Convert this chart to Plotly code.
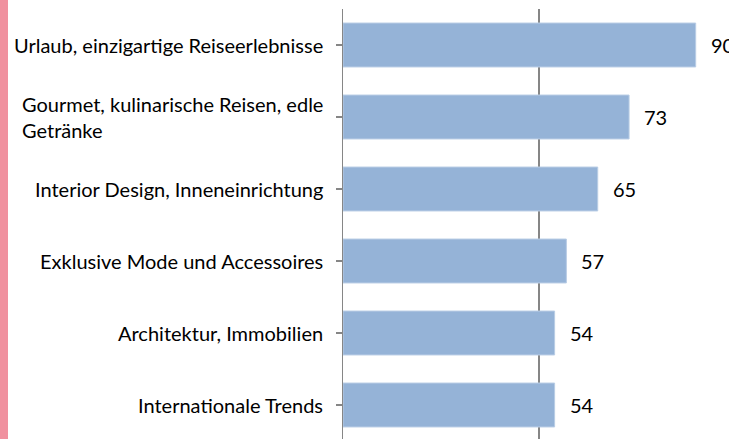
import plotly.graph_objects as go

categories = [
    "Urlaub, einzigartige Reiseerlebnisse",
    "Gourmet, kulinarische Reisen, edle<br>Getränke",
    "Interior Design, Inneneinrichtung",
    "Exklusive Mode und Accessoires",
    "Architektur, Immobilien",
    "Internationale Trends",
]
values = [90, 73, 65, 57, 54, 54]
x_gridlines = [50]

W, H = 729, 439
L, T = 343, 9
plot_w = W - L
plot_h = H - T
FONT = "Lato"
FS = 20

fig = go.Figure()
fig.add_trace(go.Bar(
    x=values,
    y=list(range(len(categories))),
    orientation="h",
    width=0.61,
    marker=dict(color="#95B3D7", line=dict(color="#B9CDE5", width=1)),
    hoverinfo="skip",
    cliponaxis=False,
))

annotations = []
for i, (c, v) in enumerate(zip(categories, values)):
    annotations.append(dict(
        x=0, xref="paper", y=i, yref="y", text=c, showarrow=False,
        xanchor="right", yanchor="middle", align="left", xshift=-18,
        font=dict(family=FONT, size=FS, color="#000000"),
    ))
    annotations.append(dict(
        x=v, xref="x", y=i, yref="y", text=str(v), showarrow=False,
        xanchor="left", yanchor="middle", xshift=13,
        font=dict(family=FONT, size=FS, color="#000000"),
    ))

n = len(categories)
fig.update_layout(
    width=W, height=H,
    margin=dict(l=L, r=0, t=T, b=0, pad=0),
    paper_bgcolor="white", plot_bgcolor="white",
    showlegend=False,
    annotations=annotations,
    xaxis=dict(
        range=[0, 98.5], tickvals=x_gridlines, showticklabels=False,
        showgrid=True, gridcolor="#868686", gridwidth=1.5,
        zeroline=False, showline=False, fixedrange=True,
    ),
    yaxis=dict(
        range=[-0.5 + plot_h / 72.0, -0.5],
        tickvals=list(range(n)), showticklabels=False,
        ticks="outside", ticklen=6, tickcolor="#868686", tickwidth=1.5,
        tickson="boundaries", type="linear",
        showgrid=False, zeroline=False,
        showline=True, linecolor="#868686", linewidth=1.5,
    ),
    shapes=[dict(
        type="rect", xref="paper", yref="paper",
        x0=-L / plot_w, x1=(8 - L) / plot_w, y0=-0.01, y1=1 + T / plot_h,
        fillcolor="#F0919F", line=dict(width=0), layer="above",
    )],
)

fig.write_html(
    "out.html",
    config={"displayModeBar": False, "staticPlot": True},
    post_script="document.body.style.margin='0';document.body.style.overflow='hidden';",
)
